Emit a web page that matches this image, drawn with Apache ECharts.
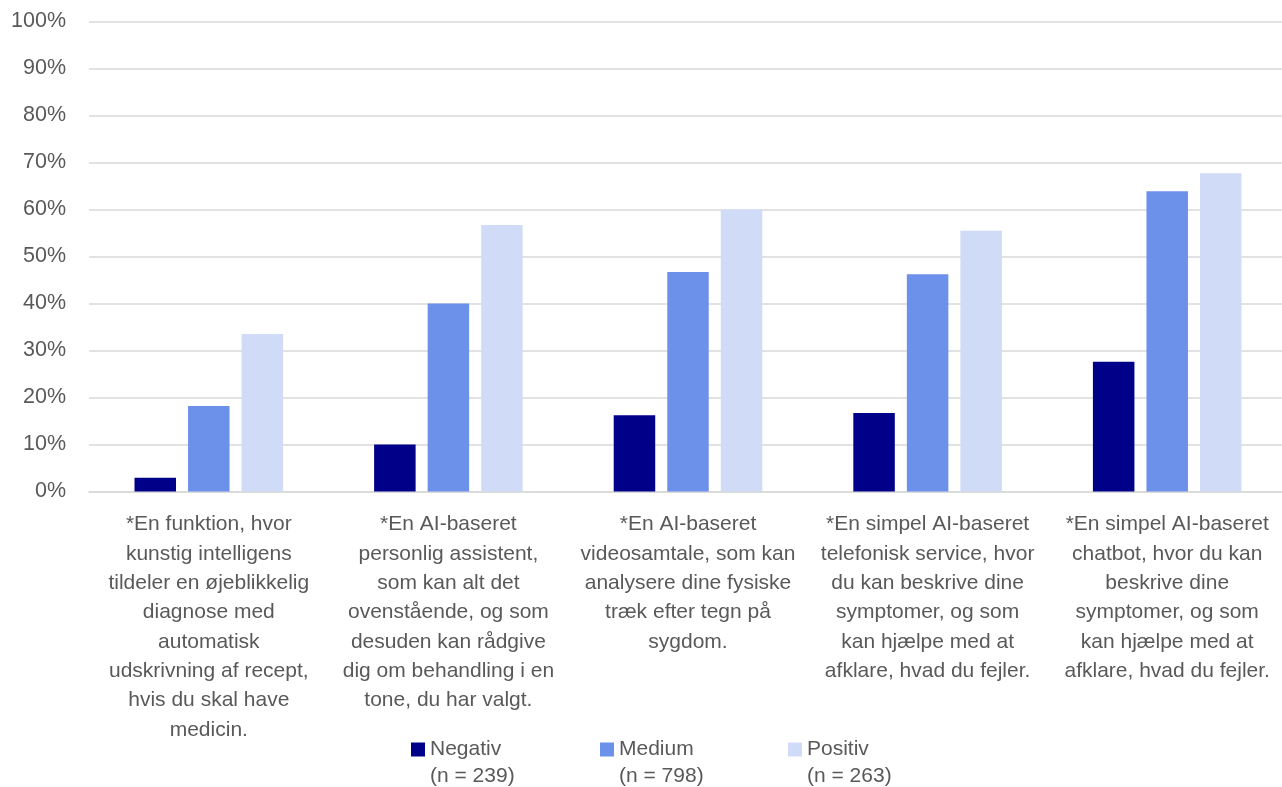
<!DOCTYPE html>
<html>
<head>
<meta charset="utf-8">
<script src="https://cdn.jsdelivr.net/npm/echarts@6/dist/echarts.min.js"></script>
<style>
  html, body { margin: 0; padding: 0; background: #ffffff; }
  #chart { width: 1282px; height: 787px; }
</style>
</head>
<body>
<div id="chart"></div>
<script>
// Category labels, one entry per wrapped line
const categoryLines = [
  ['*En funktion, hvor', 'kunstig intelligens', 'tildeler en øjeblikkelig', 'diagnose med', 'automatisk', 'udskrivning af recept,', 'hvis du skal have', 'medicin.'],
  ['*En AI-baseret', 'personlig assistent,', 'som kan alt det', 'ovenstående, og som', 'desuden kan rådgive', 'dig om behandling i en', 'tone, du har valgt.'],
  ['*En AI-baseret', 'videosamtale, som kan', 'analysere dine fysiske', 'træk efter tegn på', 'sygdom.'],
  ['*En simpel AI-baseret', 'telefonisk service, hvor', 'du kan beskrive dine', 'symptomer, og som', 'kan hjælpe med at', 'afklare, hvad du fejler.'],
  ['*En simpel AI-baseret', 'chatbot, hvor du kan', 'beskrive dine', 'symptomer, og som', 'kan hjælpe med at', 'afklare, hvad du fejler.']
];
const categories = categoryLines.map(l => l.join('\n'));

// Share of respondents (%) per group
const seriesNames = ['Negativ', 'Medium', 'Positiv'];
const groupSizes = [239, 798, 263];
const negativ = [2.9, 10.0, 16.2, 16.7, 27.6];
const medium  = [18.2, 40.0, 46.7, 46.2, 63.9];
const positiv = [33.5, 56.7, 60.0, 55.5, 67.7];

// Y-axis ticks
const yMin = 0, yMax = 100, yStep = 10;

const colors = ['#000088', '#6C91EB', '#D0DCF7'];
const textColor = '#595959';
const fontFamily = 'Liberation Sans, Arial, sans-serif';

const chart = echarts.init(document.getElementById('chart'));

const values = [negativ, medium, positiv];
const series = seriesNames.map((name, i) => ({
  name: name,
  type: 'bar',
  data: values[i],
  barWidth: 41.5,
  barGap: '29%',
  itemStyle: { color: colors[i] },
  emphasis: { disabled: true }
}));

// One legend per series so each entry sits at its own column;
// the leading blank line keeps the name level with the square marker.
const legendLefts = [411, 600, 788];
const legends = seriesNames.map((name, i) => ({
  data: [name],
  left: legendLefts[i],
  top: 709,
  padding: 0,
  itemWidth: 14,
  itemHeight: 14,
  itemGap: 0,
  icon: 'rect',
  selectedMode: false,
  formatter: n => '\n' + n + '\n(n = ' + groupSizes[i] + ')',
  textStyle: {
    color: textColor,
    fontSize: 21,
    fontFamily: fontFamily,
    lineHeight: 27
  }
}));

chart.setOption({
  animation: false,
  color: colors,
  grid: {
    left: 89, top: 21.5, width: 1198, bottom: 295.5,
    containLabel: false,
    outerBoundsMode: 'none'
  },
  legend: legends,
  xAxis: {
    type: 'category',
    data: categories,
    axisLine: { show: true, lineStyle: { color: '#D9D9D9', width: 1.5 } },
    axisTick: { show: false },
    axisLabel: {
      interval: 0,
      hideOverlap: false,
      margin: 18.5,
      color: textColor,
      fontSize: 21,
      lineHeight: 29.3,
      fontFamily: fontFamily,
      align: 'center'
    }
  },
  yAxis: {
    type: 'value',
    min: yMin,
    max: yMax,
    interval: yStep,
    axisLine: { show: false },
    axisTick: { show: false },
    splitLine: { show: true, lineStyle: { color: '#D9D9D9', width: 1.5 } },
    axisLabel: {
      formatter: '{value}%',
      margin: 23,
      color: textColor,
      fontSize: 21.5,
      fontFamily: fontFamily
    }
  },
  series: series
});
</script>
</body>
</html>
